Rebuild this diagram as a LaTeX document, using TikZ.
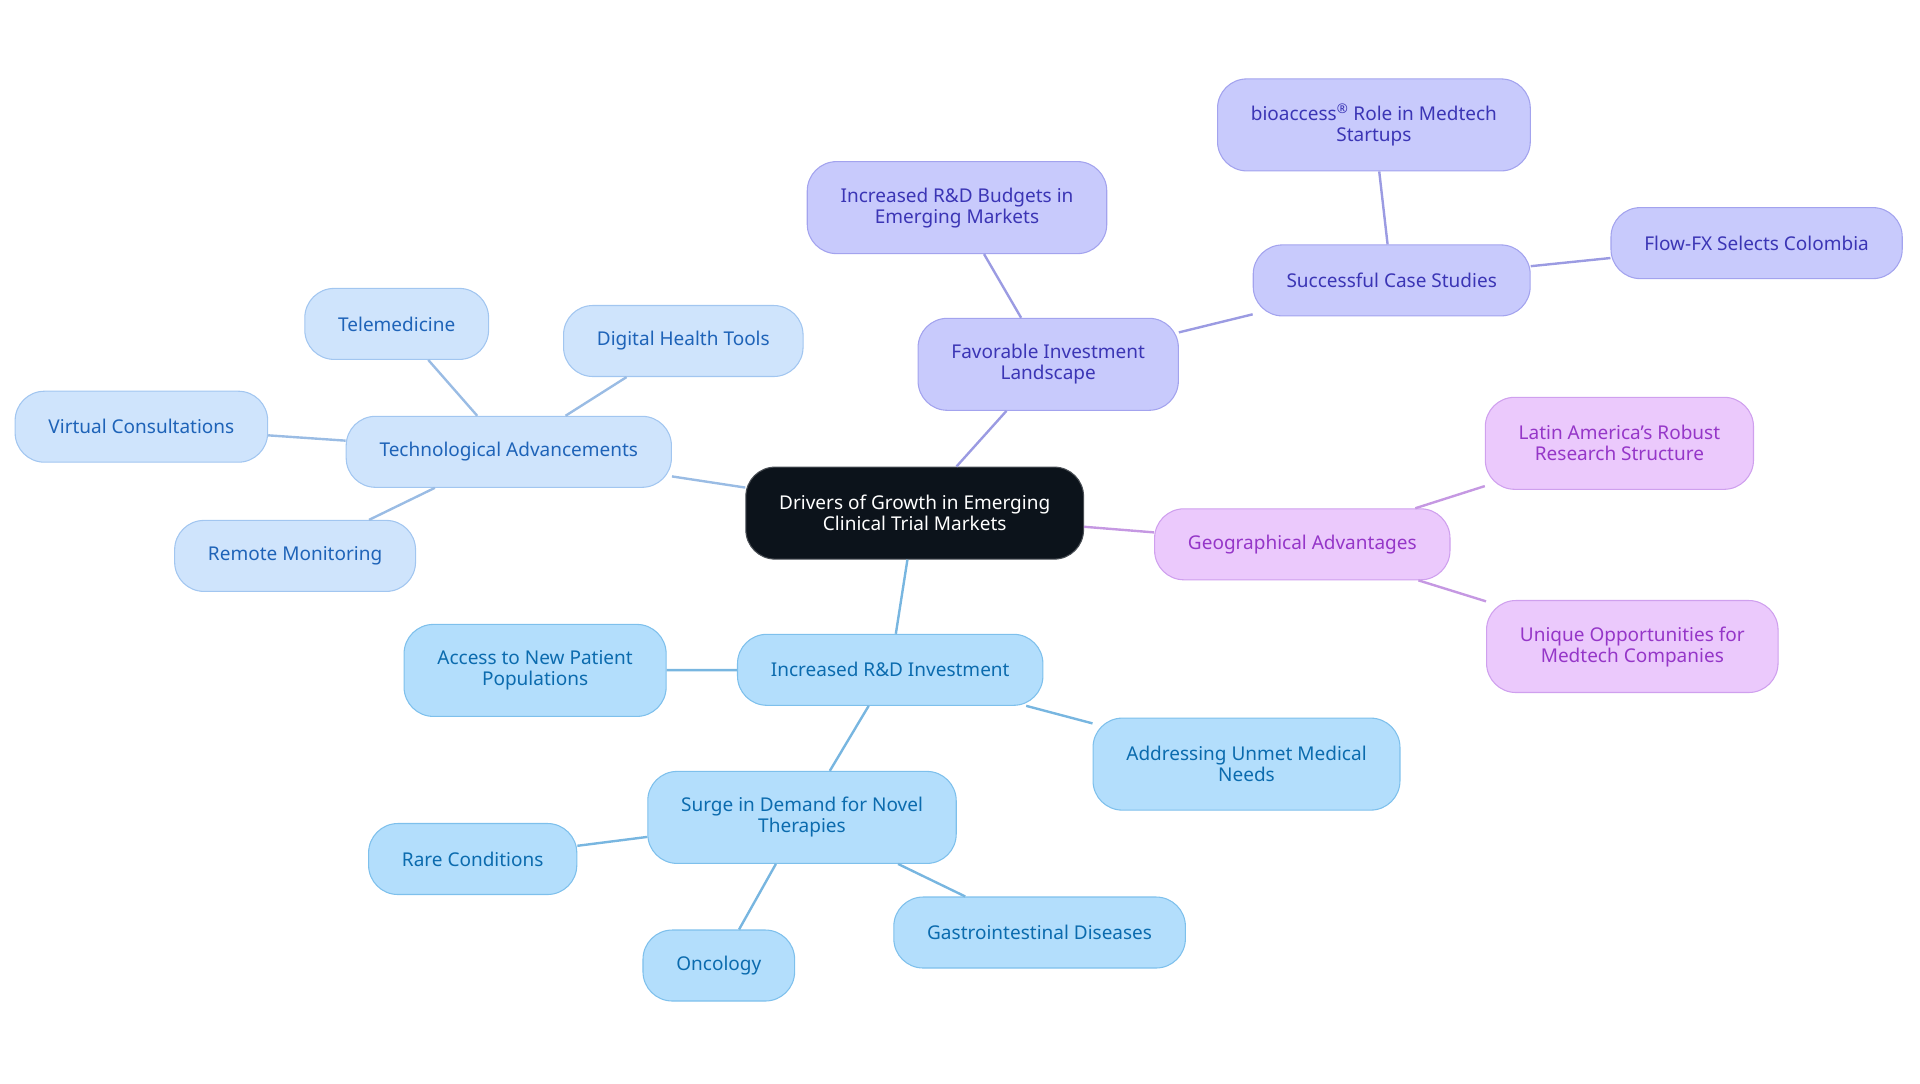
\documentclass[tikz,border=0pt]{standalone}
\usepackage{fontspec}
\setmainfont{Noto Sans}
\usepackage{tikz}
\usetikzlibrary{positioning}
\usepackage{xcolor}
\definecolor{techfill}{HTML}{CFE4FC}
\definecolor{techdraw}{HTML}{A2C6F0}
\definecolor{techtext}{HTML}{1E63B8}
\definecolor{rndfill}{HTML}{B3DEFC}
\definecolor{rnddraw}{HTML}{7EC0EC}
\definecolor{rndtext}{HTML}{0B6BAE}
\definecolor{invfill}{HTML}{C8CAFC}
\definecolor{invdraw}{HTML}{A3A3EE}
\definecolor{invtext}{HTML}{3B35B5}
\definecolor{geofill}{HTML}{EBC9FC}
\definecolor{geodraw}{HTML}{CFA0EE}
\definecolor{geotext}{HTML}{9536C8}
\definecolor{rootfill}{HTML}{0C131B}
\tikzset{
    topic/.style={
        draw,
        rounded corners=22pt,
        line width=0.8pt,
        align=center,
        inner xsep=25pt,
        inner ysep=2pt,
        minimum height=53.25pt,
        font=\fontsize{14.25}{15.75}\selectfont
    },
    tall/.style={minimum height=69pt},
    tech/.style={topic, fill=techfill, draw=techdraw, text=techtext},
    rnd/.style={topic, fill=rndfill, draw=rnddraw, text=rndtext},
    inv/.style={topic, fill=invfill, draw=invdraw, text=invtext},
    geo/.style={topic, fill=geofill, draw=geodraw, text=geotext},
    techline/.style={draw=techdraw!95!black, line width=1.8pt},
    rndline/.style={draw=rnddraw!95!black, line width=1.8pt},
    invline/.style={draw=invdraw!95!black, line width=1.8pt},
    geoline/.style={draw=geodraw!95!black, line width=1.8pt}
}

\begin{document}
\begin{tikzpicture}[x=0.75pt, y=-0.75pt]
    \useasboundingbox (0,0) rectangle (1920,1083);

    % Centre
    \node[topic, tall, fill=rootfill, draw=rootfill!75!white, text=white] (root) at (914.7,513.1) {Drivers of Growth in Emerging\\Clinical Trial Markets};

    % Technological advancements
    \node[tech] (tech) at (508.8,451.8) {Technological Advancements};
    \node[tech] (tele) at (396.7,323.9) {Telemedicine};
    \node[tech] (digital) at (683.3,341.0) {Digital Health Tools};
    \node[tech] (virtual) at (141.4,426.7) {Virtual Consultations};
    \node[tech] (remote) at (295.1,555.9) {Remote Monitoring};

    % Investment landscape
    \node[inv, tall] (invest) at (1048.2,364.3) {Favorable Investment\\Landscape};
    \node[inv, tall] (budgets) at (957.0,207.6) {Increased R\&D Budgets in\\Emerging Markets};
    \node[inv] (cases) at (1391.7,280.4) {Successful Case Studies};
    \node[inv, tall] (bio) at (1373.9,124.9) {bioaccess\textsuperscript{®} Role in Medtech\\Startups};
    \node[inv] (flow) at (1756.6,243.1) {Flow-FX Selects Colombia};

    % Geography
    \node[geo] (geo) at (1302.3,544.3) {Geographical Advantages};
    \node[geo, tall] (latin) at (1619.4,443.3) {Latin America's Robust\\Research Structure};
    \node[geo, tall] (unique) at (1632.3,646.5) {Unique Opportunities for\\Medtech Companies};

    % R&D investment
    \node[rnd] (rnd) at (890.2,669.8) {Increased R\&D Investment};
    \node[rnd, tall] (access) at (535.1,670.4) {Access to New Patient\\Populations};
    \node[rnd, tall] (unmet) at (1246.5,764.1) {Addressing Unmet Medical\\Needs};
    \node[rnd, tall] (surge) at (802.0,817.4) {Surge in Demand for Novel\\Therapies};
    \node[rnd] (rare) at (472.7,859.0) {Rare Conditions};
    \node[rnd] (onco) at (718.8,965.5) {Oncology};
    \node[rnd] (gastro) at (1039.6,932.5) {Gastrointestinal Diseases};

    % Edges
    \draw[techline] (root) -- (tech);
    \draw[techline] (tech) -- (tele);
    \draw[techline] (tech) -- (digital);
    \draw[techline] (tech) -- (virtual);
    \draw[techline] (tech) -- (remote);
    \draw[invline] (root) -- (invest);
    \draw[invline] (invest) -- (budgets);
    \draw[invline] (invest) -- (cases);
    \draw[invline] (cases) -- (bio);
    \draw[invline] (cases) -- (flow);
    \draw[geoline] (root) -- (geo);
    \draw[geoline] (geo) -- (latin);
    \draw[geoline] (geo) -- (unique);
    \draw[rndline] (root) -- (rnd);
    \draw[rndline] (rnd) -- (access);
    \draw[rndline] (rnd) -- (unmet);
    \draw[rndline] (rnd) -- (surge);
    \draw[rndline] (surge) -- (rare);
    \draw[rndline] (surge) -- (onco);
    \draw[rndline] (surge) -- (gastro);
\end{tikzpicture}
\end{document}
